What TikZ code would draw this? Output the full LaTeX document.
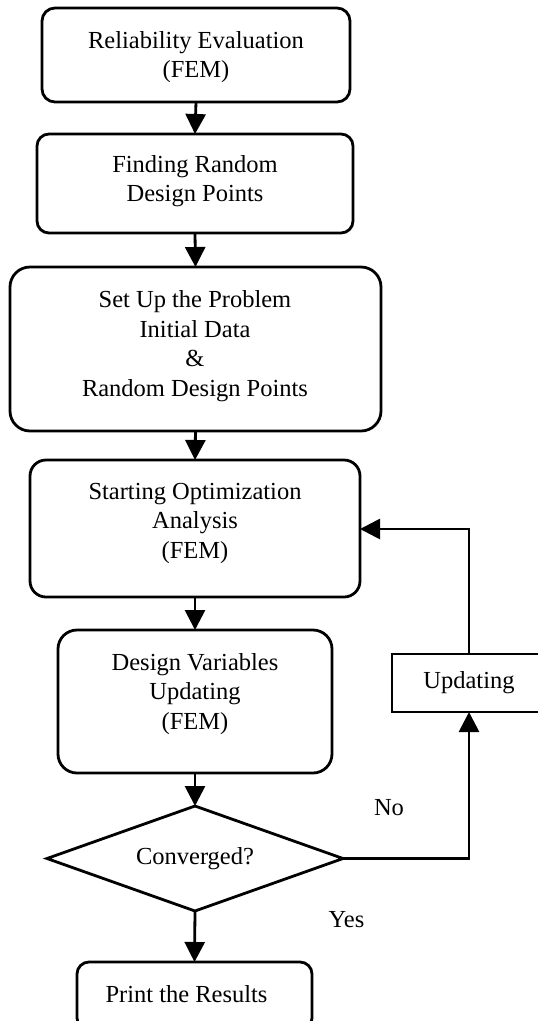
\documentclass[tikz,border=0pt]{standalone}
\usepackage{fontspec}
\setmainfont{Liberation Serif}
\usetikzlibrary{arrows.meta,shapes.geometric}
\begin{document}
\begin{tikzpicture}[x=1pt,y=-1pt,
  line width=2.8pt,
  every node/.style={inner sep=0pt,outer sep=0pt},
  box/.style={draw,rectangle,rounded corners=#1},
  box/.default=14pt,
  plainbox/.style={draw,rectangle},
  txt/.style={align=center,font=\fontsize{24.5pt}{29.5pt}\selectfont},
  flow/.style={-{Triangle[width=20pt,length=20pt]}},
  conn/.style={}
]
\useasboundingbox (0,0) rectangle (538,1021);
\clip (0,0) rectangle (538,1021);
% boxes
\node[box=13pt,minimum width=308pt,minimum height=94pt] (b1) at (196,55) {};
\node[box=12pt,minimum width=316pt,minimum height=99pt] (b2) at (195,183.5) {};
\node[box=20pt,minimum width=371pt,minimum height=164pt] (b3) at (195.5,349) {};
\node[box=16pt,minimum width=330pt,minimum height=137pt] (b4) at (195,528.5) {};
\node[box=19pt,minimum width=274pt,minimum height=143pt] (b5) at (195,701.5) {};
\node[draw,diamond,shape aspect=2.8,minimum width=296pt,minimum height=105pt] (dec) at (195,858.5) {};
\node[box=12pt,minimum width=235pt,minimum height=68pt] (b6) at (194.5,996) {};
\node[plainbox,minimum width=154pt,minimum height=58pt,txt] (upd) at (469,683) {Updating};
% texts
\node[txt] (t1) at (196,57) {Reliability Evaluation\\(FEM)};
\node[txt] (t2) at (195,181) {Finding Random\\Design Points};
\node[txt] (t3) at (195,346) {Set Up the Problem\\Initial Data\\\&\\Random Design Points};
\node[txt] (t4) at (195,523) {Starting Optimization\\Analysis\\(FEM)};
\node[txt] (t5) at (195,694) {Design Variables\\Updating\\(FEM)};
\node[txt] (t6) at (195,859) {Converged?};
\node[txt] (t7) at (186.5,994) {Print the Results};
\node[txt] (no) at (389,808) {No};
\node[txt] (yes) at (346.5,920) {Yes};
% connectors
\draw[flow] (b1.south) -- (b2.north);
\draw[flow] (b2.south) -- (b3.north);
\draw[flow] (b3.south) -- (b4.north);
\draw[flow] (b4.south) -- (b5.north);
\draw[flow] (b5.south) -- (dec.north);
\draw[flow] (dec.south) -- (b6.north);
\draw[flow] (dec.east) -| (upd.south);
\draw[flow] (upd.north) |- (b4.east |- 0,529);
\end{tikzpicture}
\end{document}
